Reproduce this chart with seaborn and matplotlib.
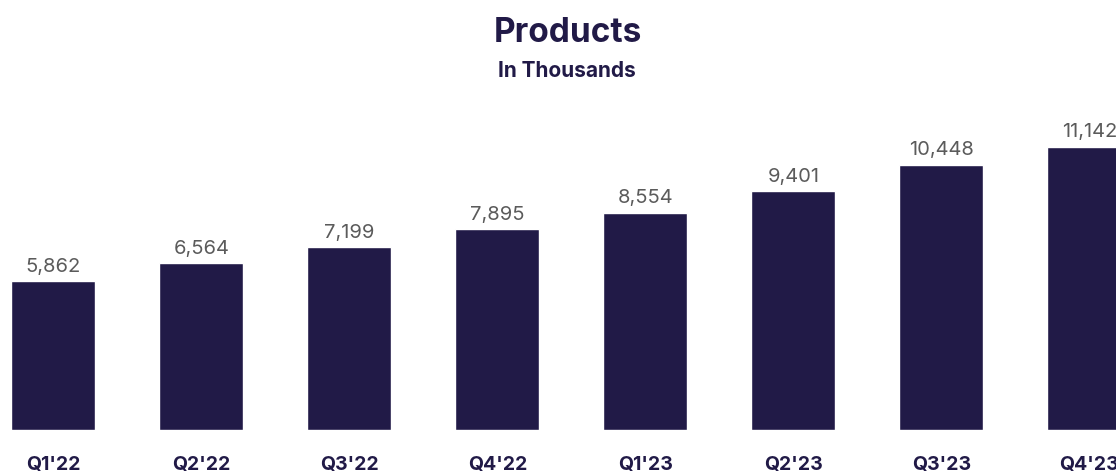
import matplotlib
matplotlib.use("Agg")
import matplotlib.pyplot as plt
import seaborn as sns
import pandas as pd

quarters = ["Q1'22", "Q2'22", "Q3'22", "Q4'22", "Q1'23", "Q2'23", "Q3'23", "Q4'23"]
products = [5862, 6564, 7199, 7895, 8554, 9401, 10448, 11142]

navy = "#211a47"
gray = "#5b5b5b"

sns.set_theme(style="white")
plt.rcParams["font.family"] = ["Inter", "DejaVu Sans"]

df = pd.DataFrame({"quarter": quarters, "products": products})

fig = plt.figure(figsize=(11.16, 4.74), dpi=100)
# axes fills the full width, bottom at the bar baseline
ax = fig.add_axes([0, 44 / 474, 1, 330 / 474])
sns.barplot(data=df, x="quarter", y="products", color=navy, saturation=1,
            width=0.5675, ax=ax)

ax.set_xlim(-0.36, 7.18)
ax.set_ylim(0, 330 / 0.0254)

for i, v in enumerate(products):
    ax.annotate(f"{v:,}", (i, v), xytext=(0, 4), textcoords="offset points",
                ha="center", va="bottom", fontsize=14.5, color=gray)

ax.set_xlabel("")
ax.set_ylabel("")
ax.set_yticks([])
ax.tick_params(axis="x", length=0, pad=19)
for lbl in ax.get_xticklabels():
    lbl.set_fontweight("bold")
    lbl.set_fontsize(14)
    lbl.set_color(navy)
sns.despine(ax=ax, left=True, bottom=True)

fig.text(568 / 1116, 1 - 33 / 474, "Products", ha="center", va="center",
         fontsize=24, fontweight="bold", color=navy)
fig.text(567 / 1116, 1 - 71 / 474, "In Thousands", ha="center", va="center",
         fontsize=15, fontweight="bold", color=navy)

fig.savefig("out.png", dpi=100)
